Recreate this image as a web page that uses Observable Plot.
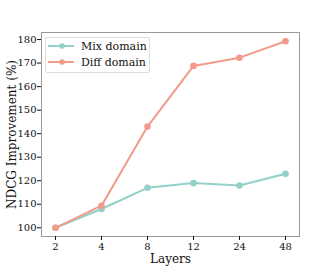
<!DOCTYPE html>
<html><head><meta charset="utf-8">
<script src="https://cdn.jsdelivr.net/npm/d3@7"></script>
<script src="https://cdn.jsdelivr.net/npm/@observablehq/plot@0.6"></script>
<style>
body{margin:0;background:#fff;}
#wrap{position:relative;width:332px;height:266px;font-family:"DejaVu Serif",serif;}
#legend{position:absolute;left:45px;top:37px;width:103px;height:34px;border:1px solid #ddd;border-radius:2px;background:#fff;font-size:11px;color:#111;}
.row{position:absolute;left:2px;height:14px;display:flex;align-items:center;}
.row span{margin-left:7px;}
</style></head>
<body><div id="wrap"></div>
<script>
const layers = ["2","4","8","12","24","48"];
const mixDomain = [100, 108, 117, 119, 118, 123];
const diffDomain = [100, 109.4, 143, 168.8, 172.3, 179.3];
const seriesNames = ["Mix domain", "Diff domain"];
const seriesColors = ["#93d0ca", "#f39a8b"];
const yTicks = [100,110,120,130,140,150,160,170,180];

const data = [];
layers.forEach((l,i)=>{
  data.push({layer:l, value:mixDomain[i], series:seriesNames[0]});
  data.push({layer:l, value:diffDomain[i], series:seriesNames[1]});
});

const chart = Plot.plot({
  width:332, height:266,
  marginLeft:41, marginRight:33, marginTop:32, marginBottom:30,
  style:{fontFamily:"DejaVu Serif, serif", fontSize:"10px", color:"#111", background:"#fff"},
  x:{type:"point", domain:layers, padding:0.26},
  y:{domain:[96.3,183]},
  color:{domain:seriesNames, range:seriesColors},
  marks:[
    Plot.frame({stroke:"#999", strokeWidth:1}),
    Plot.line(data,{x:"layer", y:"value", z:"series", stroke:"series", strokeWidth:2}),
    Plot.dot(data,{x:"layer", y:"value", fill:"series", r:3.3}),
    Plot.axisX({tickSize:4, tickPadding:2, fontSize:10, label:"Layers", labelOffset:26, labelAnchor:"center", labelArrow:"none"}),
    Plot.axisY({ticks:yTicks, tickSize:4, tickPadding:1, fontSize:10, label:"NDCG Improvement (%)", labelOffset:34, labelAnchor:"center", labelArrow:"none"})
  ]
});
chart.querySelectorAll("[aria-label='x-axis label'] text, [aria-label='y-axis label'] text").forEach(t=>t.style.fontSize="12px");
const wrap = document.getElementById("wrap");
wrap.appendChild(chart);

const leg = document.createElement("div");
leg.id = "legend";
seriesNames.forEach((n,i)=>{
  const row = document.createElement("div");
  row.className="row";
  row.style.top = (i===0 ? 1 : 17) + "px";
  row.innerHTML = `<svg width="26" height="8"><line x1="0" y1="4" x2="26" y2="4" stroke="${seriesColors[i]}" stroke-width="2"/><circle cx="14" cy="4" r="2.8" fill="${seriesColors[i]}"/></svg><span>${n}</span>`;
  leg.appendChild(row);
});
wrap.appendChild(leg);
</script></body></html>
